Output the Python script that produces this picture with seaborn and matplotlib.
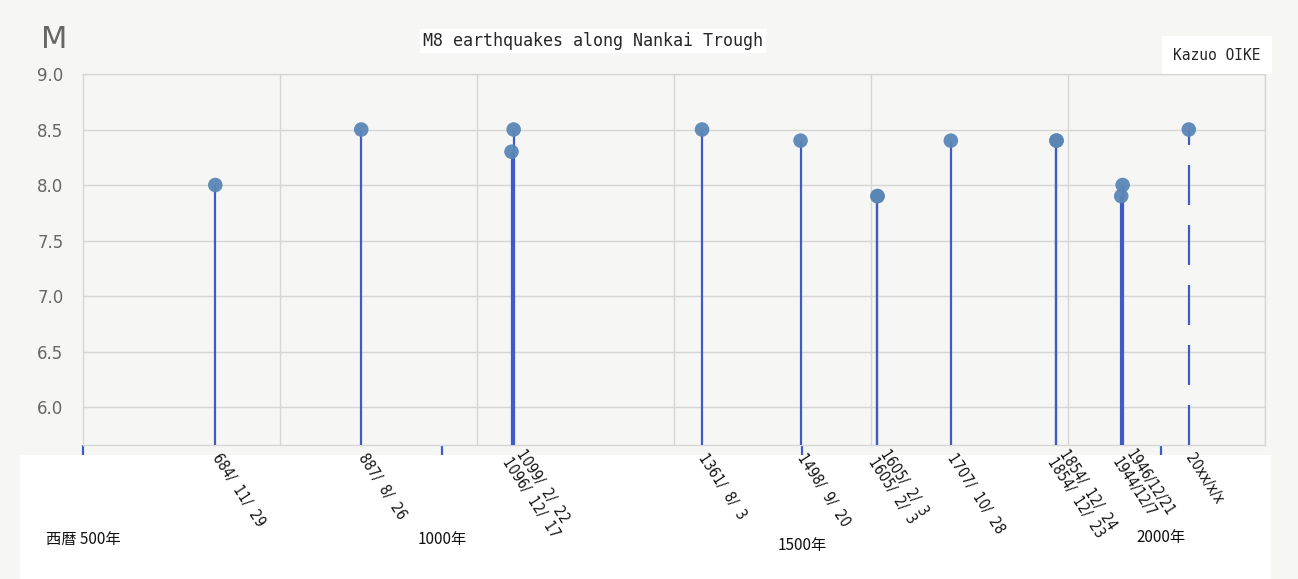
import pandas as pd
import matplotlib.pyplot as plt
import matplotlib.transforms as mtransforms
from matplotlib.patches import Rectangle
import seaborn as sns

# Datos
years = [684, 887, 1096, 1099, 1361, 1498, 1605, 1605, 1707, 1854, 1854, 1944, 1946, 2038]
magnitudes = [8.0, 8.5, 8.3, 8.5, 8.5, 8.4, 7.9, 7.9, 8.4, 8.4, 8.4, 7.9, 8.0, 8.5]
date_labels = ["684/  11/  29", "887/  8/  26", "1096/  12/  17", "1099/  2/  22",
               "1361/  8/  3", "1498/  9/  20", "1605/  2/  3", "1605/  2/  3",
               "1707/  10/  28", "1854/  12/  23", "1854/  12/  24", "1944/12/7",
               "1946/12/21", "20xx/x/x"]
label_stack = ["center", "center", "top", "bottom", "center", "center", "top", "bottom",
               "center", "top", "bottom", "top", "bottom", "center"]
is_future = [False] * 13 + [True]

century_years = [500, 1000, 1500, 2000]
century_labels = ["西暦 500年", "1000年", "1500年", "2000年"]
grid_years = [500, 774, 1048, 1322, 1596, 1870, 2144]
y_ticks = [6.0, 6.5, 7.0, 7.5, 8.0, 8.5, 9.0]

STEM = "#3f5bc8"
DOT = "#5a86b6"
GRID = "#d6d6d6"
BG = "#f6f7f5"

sns.set_theme(style="whitegrid")
plt.rcParams["font.family"] = ["DejaVu Sans", "Noto Sans CJK JP"]

df = pd.DataFrame({"year": years, "M": magnitudes, "future": is_future})

fig = plt.figure(figsize=(12.98, 5.79), dpi=100, facecolor=BG)
# banda blanca de las etiquetas
fig.patches.append(Rectangle((20 / 1298, 0), 1250 / 1298, 124 / 579,
                             transform=fig.transFigure, color="white", zorder=-1))
ax = fig.add_axes([83 / 1298, 1 - 445 / 579, 1182 / 1298, 371 / 579])
ax.set_facecolor("none")

ymin = 5.658
past = df[~df["future"]]
fut = df[df["future"]]
ax.vlines(past["year"], ymin, past["M"], color=STEM, lw=1.6, zorder=3)
ax.vlines(fut["year"], ymin, fut["M"], color=STEM, lw=1.6, zorder=3,
          linestyles=[(0, (18, 9))])
sns.scatterplot(data=df, x="year", y="M", ax=ax, color=DOT, s=110,
                edgecolor="none", alpha=0.95, zorder=4, legend=False)

ax.set_xlim(grid_years[0], grid_years[-1])
ax.set_ylim(ymin, 9.0)
ax.set_xticks(century_years)
ax.set_xticklabels([])
ax.set_xticks(grid_years, minor=True)
ax.set_yticks(y_ticks)
ax.set_yticklabels([f"{v:.1f}" for v in y_ticks], color="#666666", fontsize=12)
ax.tick_params(axis="y", length=0, pad=14)
ax.tick_params(axis="x", which="major", length=7, width=1.6, color=STEM,
               direction="out", bottom=True)
ax.tick_params(axis="x", which="minor", length=0)
ax.grid(False)
ax.grid(axis="y", color=GRID, lw=1)
ax.grid(axis="x", which="minor", color=GRID, lw=1)
for s in ax.spines.values():
    s.set_color(GRID)
    s.set_linewidth(1)
ax.set_xlabel("")
ax.set_ylabel("")

# etiquetas de fecha giradas
trans = ax.get_xaxis_transform() + mtransforms.ScaledTranslation(0, -10 / 100, fig.dpi_scale_trans)
for yr, lab, va in zip(years, date_labels, label_stack):
    ax.text(yr, 0, lab, transform=trans, rotation=-57, rotation_mode="anchor",
            ha="left", va=va, fontsize=10.5, fontstretch="condensed",
            family=["DejaVu Sans"], color="#111111")

# etiquetas de siglos
century_dy = [-0.255, -0.255, -0.27, -0.25]
for yr, lab, dy in zip(century_years, century_labels, century_dy):
    ax.text(yr, dy, lab, transform=ax.get_xaxis_transform(), ha="center", va="center",
            fontsize=11, family=["Noto Sans CJK JP", "DejaVu Sans"], color="#111111")

fig.text(54 / 1298, 1 - 40 / 579, "M", fontsize=22, color="#666666",
         ha="center", va="center")
fig.text(593 / 1298, 1 - 41 / 579, "M8 earthquakes along Nankai Trough",
         family="DejaVu Sans Mono", fontsize=12, ha="center", va="center",
         bbox=dict(boxstyle="square,pad=0.2", fc="white", ec="none"))
fig.text(1217 / 1298, 1 - 55 / 579, "Kazuo OIKE", family="DejaVu Sans Mono",
         fontsize=10.5, ha="center", va="center",
         bbox=dict(boxstyle="square,pad=0.8", fc="white", ec="none"))

fig.savefig("out.png", dpi=100, facecolor=BG)
